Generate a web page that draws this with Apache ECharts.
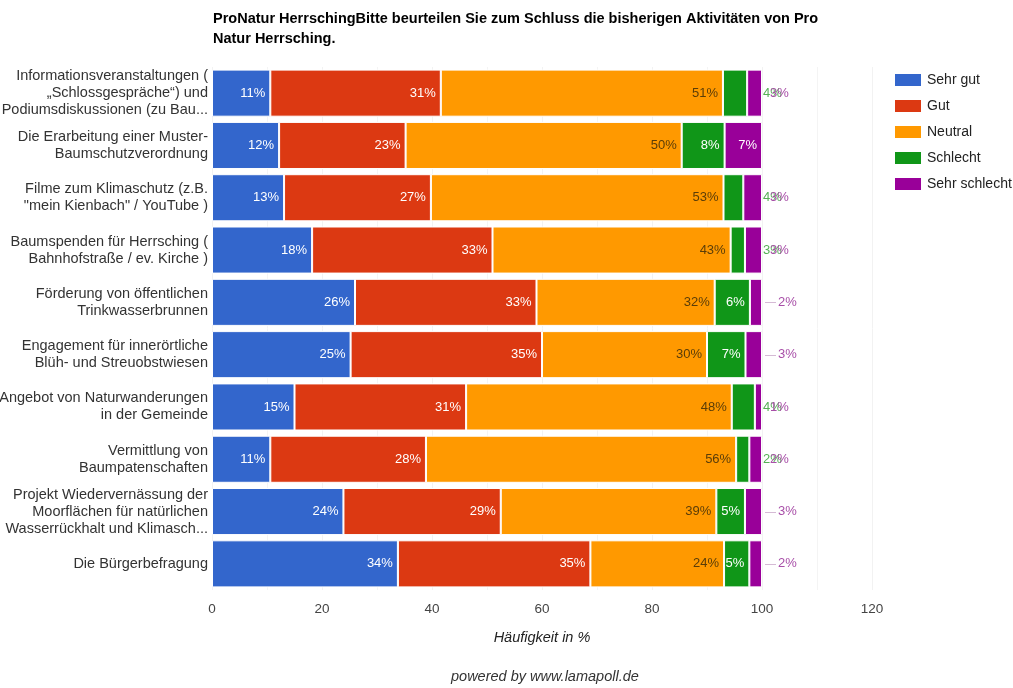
<!DOCTYPE html>
<html>
<head>
<meta charset="utf-8">
<title>ProNatur Herrsching</title>
<script src="https://cdn.jsdelivr.net/npm/echarts@6/dist/echarts.min.js"></script>
<style>
	html, body { margin: 0; padding: 0; background: #fff; }
	#main { width: 1013px; height: 688px; }
</style>
</head>
<body>
<div id="main"></div>
<script>
	var categories = [
		"Informationsveranstaltungen (\n„Schlossgespräche“) und\nPodiumsdiskussionen (zu Bau...",
		"Die Erarbeitung einer Muster-\nBaumschutzverordnung",
		"Filme zum Klimaschutz (z.B.\n\"mein Kienbach\" / YouTube )",
		"Baumspenden für Herrsching (\nBahnhofstraße / ev. Kirche )",
		"Förderung von öffentlichen\nTrinkwasserbrunnen",
		"Engagement für innerörtliche\nBlüh- und Streuobstwiesen",
		"Angebot von Naturwanderungen\nin der Gemeinde",
		"Vermittlung von\nBaumpatenschaften",
		"Projekt Wiedervernässung der\nMoorflächen für natürlichen\nWasserrückhalt und Klimasch...",
		"Die Bürgerbefragung"
	];
	var seriesNames = ["Sehr gut", "Gut", "Neutral", "Schlecht", "Sehr schlecht"];
	var sehrGut = [10.6, 12.2, 13.1, 18.2, 26.0, 25.2, 15.0, 10.6, 23.9, 33.8];
	var gut = [31.0, 23.0, 26.7, 32.8, 33.0, 34.8, 31.2, 28.3, 28.6, 35.0];
	var neutral = [51.3, 50.2, 53.2, 43.3, 32.4, 30.0, 48.3, 56.4, 39.2, 24.3];
	var schlecht = [4.4, 7.8, 3.6, 2.6, 6.4, 7.0, 4.2, 2.4, 5.2, 4.6];
	var sehrSchlecht = [2.7, 6.8, 3.4, 3.1, 2.2, 3.0, 1.3, 2.3, 3.1, 2.3];
	var xTicks = [0, 20, 40, 60, 80, 100, 120];

	var colors = ["#3366cc", "#dc3912", "#ff9900", "#109618", "#990099"];
	var textColors = ["#fff", "#fff", "#5a3d08", "#fff", "#fff"];
	var pxPerUnit = 660 / 120; // grid width / axis max
	var minInside = 4.5; // schmalere Balken bekommen das Label rechts neben dem Balken

	function pct(v) {
		return Math.round(v) + "%";
	}

	function makeSeries(idx, values) {
		return {
			name: seriesNames[idx],
			type: "bar",
			stack: "total",
			barCategoryGap: "10%",
			itemStyle: { color: colors[idx], borderColor: "#fff", borderWidth: 1 },
			label: {
				show: true,
				position: "insideRight",
				distance: 5,
				color: textColors[idx],
				fontSize: 13,
				fontFamily: "Liberation Sans, Arial",
				formatter: function(p) { return pct(p.value); }
			},
			emphasis: { disabled: true },
			data: values.map(function(v, i) {
				var item = { value: v };
				if (idx == 3 && v < minInside) {
					//kleine "Schlecht"-Werte: hinter dem Balkenende, unter dem lila Label
					item.label = {
						position: "right",
						distance: sehrSchlecht[i] * pxPerUnit + 1,
						color: "#55b055"
					};
				}
				if (idx == 4 && v < minInside) {
					var greenOut = schlecht[i] < minInside;
					item.label = {
						position: "right",
						distance: greenOut ? 8 : 3,
						formatter: function(p) {
							return (greenOut ? "" : "{d|—}") + "{v|" + pct(p.value) + "}";
						},
						rich: {
							d: { color: "#c9a6c9", fontSize: 11, padding: [0, 2, 0, 0] },
							v: { color: "#a84fa8", fontSize: 13, fontFamily: "Liberation Sans, Arial" }
						}
					};
				}
				return item;
			})
		};
	}

	var chart = echarts.init(document.getElementById("main"));
	chart.setOption({
		animation: false,
		textStyle: { fontFamily: "Liberation Sans, Arial" },
		title: [{
			text: "ProNatur HerrschingBitte beurteilen Sie zum Schluss die bisherigen Aktivitäten von Pro\nNatur Herrsching.",
			left: 208,
			top: 4,
			textStyle: { fontSize: 14.5, fontWeight: "bold", color: "#000", lineHeight: 20 }
		}, {
			text: "powered by www.lamapoll.de",
			left: 446,
			top: 664,
			textStyle: { fontSize: 14.5, fontWeight: "normal", fontStyle: "italic", color: "#333" }
		}],
		legend: {
			orient: "vertical",
			left: 888,
			top: 67,
			itemWidth: 28,
			itemHeight: 14,
			itemGap: 10,
			icon: "rect",
			textStyle: { fontSize: 14, color: "#222" },
			data: seriesNames
		},
		grid: { left: 212, right: 141, top: 67, bottom: 98, outerBoundsMode: "none", containLabel: false },
		xAxis: {
			type: "value",
			min: xTicks[0],
			max: xTicks[xTicks.length - 1],
			interval: 20,
			name: "Häufigkeit in %",
			nameLocation: "middle",
			nameGap: 40,
			nameTextStyle: { fontSize: 14.5, fontStyle: "italic", color: "#222" },
			axisLine: { show: false },
			axisTick: { show: false },
			axisLabel: { fontSize: 13.5, color: "#444", margin: 12 },
			splitLine: { show: true, lineStyle: { color: "#f2f2f2" } },
			minorTick: { show: false, splitNumber: 2 },
			minorSplitLine: { show: true, lineStyle: { color: "#f4f4f4" } }
		},
		yAxis: {
			type: "category",
			inverse: true,
			data: categories,
			axisLine: { show: false },
			axisTick: { show: false },
			axisLabel: { fontSize: 14.5, color: "#333", lineHeight: 17, margin: 4 }
		},
		series: [
			makeSeries(0, sehrGut),
			makeSeries(1, gut),
			makeSeries(2, neutral),
			makeSeries(3, schlecht),
			makeSeries(4, sehrSchlecht)
		]
	});
</script>
</body>
</html>
